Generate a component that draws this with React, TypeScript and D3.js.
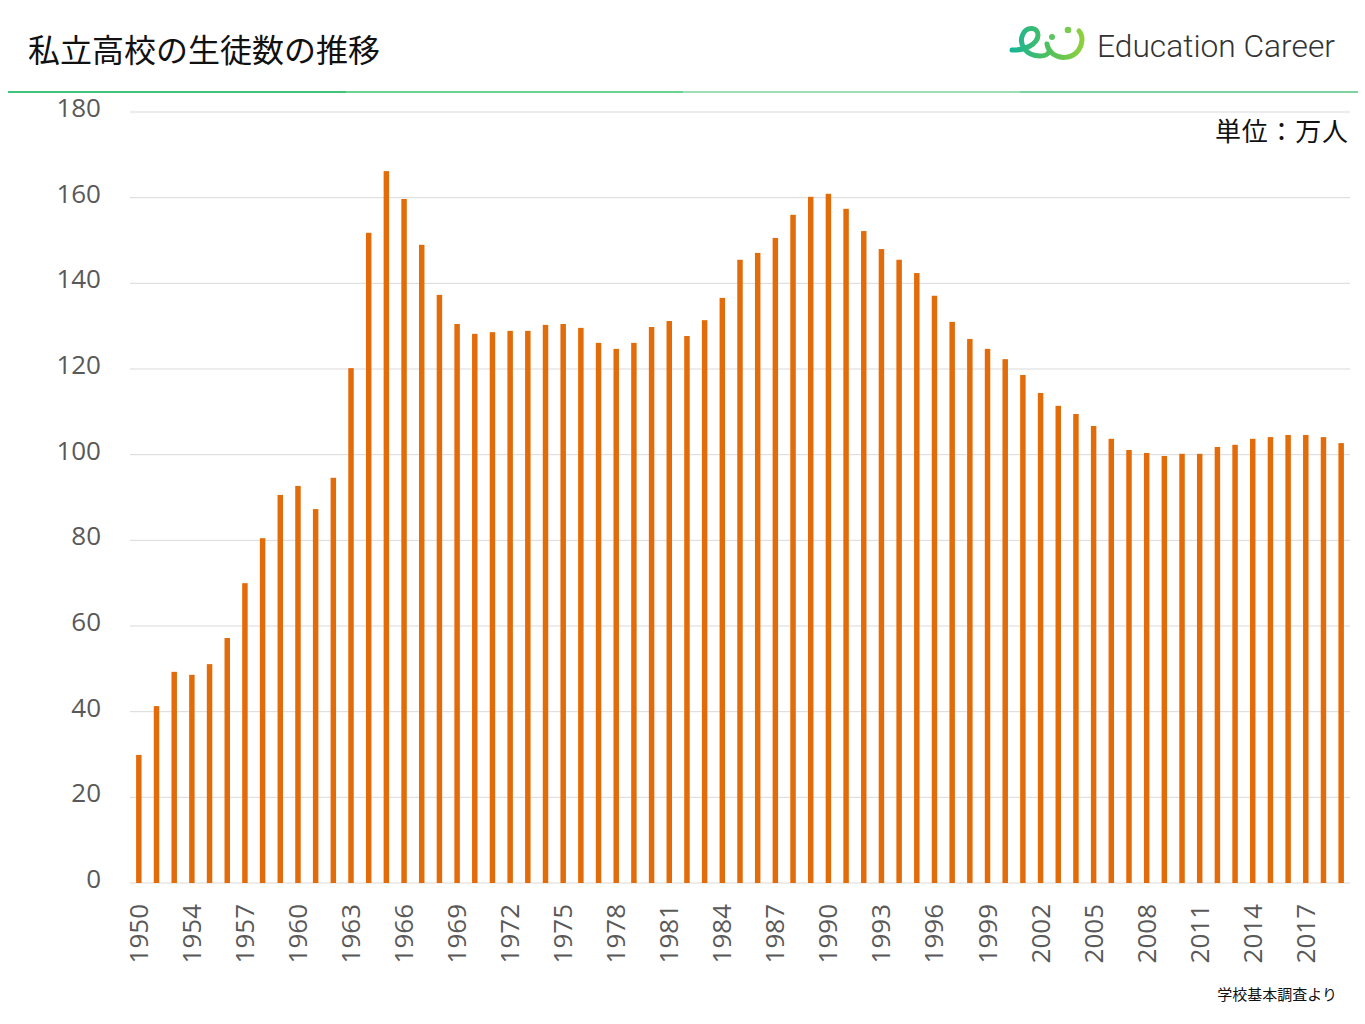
import React, { useEffect, useRef } from 'react';
import * as d3 from 'd3';

// 私立高校の生徒数（万人）— 学校基本調査
const years: number[] = [
  1950, 1952, 1953, 1954, 1955, 1956, 1957, 1958, 1959, 1960,
  1961, 1962, 1963, 1964, 1965, 1966, 1967, 1968, 1969, 1970,
  1971, 1972, 1973, 1974, 1975, 1976, 1977, 1978, 1979, 1980,
  1981, 1982, 1983, 1984, 1985, 1986, 1987, 1988, 1989, 1990,
  1991, 1992, 1993, 1994, 1995, 1996, 1997, 1998, 1999, 2000,
  2001, 2002, 2003, 2004, 2005, 2006, 2007, 2008, 2009, 2010,
  2011, 2012, 2013, 2014, 2015, 2016, 2017, 2018, 2019,
];

const students: number[] = [
  29.9, 41.3, 49.3, 48.6, 51.1, 57.2, 70.0, 80.5, 90.6, 92.7,
  87.3, 94.6, 120.2, 151.8, 166.2, 159.7, 149.0, 137.3, 130.5, 128.2,
  128.6, 128.9, 128.9, 130.3, 130.5, 129.6, 126.1, 124.7, 126.1, 129.8,
  131.2, 127.7, 131.4, 136.6, 145.5, 147.1, 150.6, 156.0, 160.2, 160.9,
  157.4, 152.2, 148.0, 145.5, 142.4, 137.1, 131.0, 127.0, 124.7, 122.3,
  118.6, 114.4, 111.4, 109.5, 106.7, 103.7, 101.1, 100.4, 99.7, 100.2,
  100.2, 101.8, 102.3, 103.7, 104.1, 104.6, 104.6, 104.1, 102.7,
];

const yTicks: number[] = [0, 20, 40, 60, 80, 100, 120, 140, 160, 180];

const title = '私立高校の生徒数の推移';
const unitLabel = '単位：万人';
const sourceLabel = '学校基本調査より';
const brandName = 'Education Career';

const W = 1365;
const H = 1024;

const App: React.FC = () => {
  const svgRef = useRef<SVGSVGElement | null>(null);

  useEffect(() => {
    if (!svgRef.current) return;
    const svg = d3.select(svgRef.current);
    svg.selectAll('*').remove();

    const numFont = '"Open Sans", "Noto Sans", sans-serif';
    const jpFont = '"Noto Sans CJK JP", sans-serif';
    const labelColor = '#595959';

    svg.append('rect').attr('width', W).attr('height', H).attr('fill', '#ffffff');

    // header
    svg.append('text')
      .attr('x', 28)
      .attr('y', 62)
      .attr('font-family', jpFont)
      .attr('font-size', 32)
      .attr('fill', '#111')
      .text(title);

    // green rule under the header, in four tints
    const rule = [
      { x0: 8, x1: 346, c: '#00b050' },
      { x0: 346, x1: 683, c: '#3cc46f' },
      { x0: 683, x1: 1020, c: '#7fd4a0' },
      { x0: 1020, x1: 1358, c: '#52c583' },
    ];
    svg.append('g').selectAll('line')
      .data(rule)
      .join('line')
      .attr('x1', d => d.x0)
      .attr('x2', d => d.x1)
      .attr('y1', 92)
      .attr('y2', 92)
      .attr('stroke', d => d.c)
      .attr('stroke-width', 1.5);

    // logo
    const defs = svg.append('defs');
    const lg = defs.append('linearGradient')
      .attr('id', 'logo-grad')
      .attr('gradientUnits', 'userSpaceOnUse')
      .attr('x1', 1010).attr('y1', 40).attr('x2', 1085).attr('y2', 40);
    lg.append('stop').attr('offset', '0%').attr('stop-color', '#16b39a');
    lg.append('stop').attr('offset', '50%').attr('stop-color', '#4cc05e');
    lg.append('stop').attr('offset', '100%').attr('stop-color', '#92d13a');

    const logo = svg.append('g');
    logo.append('path')
      .attr('d', 'M1012,50 C1024,51 1038,44 1038,35 C1038,27 1027,26 1023,34 C1018,44 1026,56 1040,56 C1046,56 1048,54 1049,52')
      .attr('fill', 'none')
      .attr('stroke', 'url(#logo-grad)')
      .attr('stroke-width', 5)
      .attr('stroke-linecap', 'round');
    logo.append('path')
      .attr('d', 'M1047,44 C1050,62 1080,63 1082,40 C1082,36 1081,33 1079,31')
      .attr('fill', 'none')
      .attr('stroke', 'url(#logo-grad)')
      .attr('stroke-width', 5)
      .attr('stroke-linecap', 'round');
    logo.append('circle').attr('cx', 1052).attr('cy', 37).attr('r', 3).attr('fill', '#5cc465');
    logo.append('circle').attr('cx', 1068).attr('cy', 30).attr('r', 3.3).attr('fill', '#78cb4e');

    svg.append('text')
      .attr('x', 1097)
      .attr('y', 57)
      .attr('font-family', '"Roboto", "Noto Sans", sans-serif')
      .attr('font-size', 31)
      .attr('font-weight', 300)
      .attr('fill', '#333333')
      .attr('textLength', 238)
      .attr('lengthAdjust', 'spacingAndGlyphs')
      .text(brandName);

    // chart
    const x = d3.scaleBand<number>()
      .domain(years)
      .range([130, 1350])
      .paddingInner(0.69)
      .paddingOuter(0.345);

    const y = d3.scaleLinear().domain([0, 180]).range([883, 112]);

    svg.append('g').selectAll('line')
      .data(yTicks)
      .join('line')
      .attr('x1', 130)
      .attr('x2', 1350)
      .attr('y1', d => y(d))
      .attr('y2', d => y(d))
      .attr('stroke', '#d9d9d9')
      .attr('stroke-width', 1);

    svg.append('g').selectAll('text')
      .data(yTicks)
      .join('text')
      .attr('x', 101)
      .attr('y', d => y(d) + 5)
      .attr('text-anchor', 'end')
      .attr('font-family', numFont)
      .attr('font-size', 26)
      .attr('fill', labelColor)
      .text(d => String(d));

    svg.append('g').selectAll('rect')
      .data(students)
      .join('rect')
      .attr('x', (_, i) => x(years[i]) ?? 0)
      .attr('width', x.bandwidth())
      .attr('y', d => y(d))
      .attr('height', d => y(0) - y(d))
      .attr('fill', '#e36c0a');

    const xLabels = years.filter((_, i) => i % 3 === 0);
    svg.append('g').selectAll('text')
      .data(xLabels)
      .join('text')
      .attr('transform', d => `translate(${(x(d) ?? 0) + x.bandwidth() / 2 + 9},904) rotate(-90)`)
      .attr('text-anchor', 'end')
      .attr('font-family', numFont)
      .attr('font-size', 26)
      .attr('fill', labelColor)
      .text(d => String(d));

    svg.append('text')
      .attr('x', 1348)
      .attr('y', 141)
      .attr('text-anchor', 'end')
      .attr('font-family', jpFont)
      .attr('font-size', 26)
      .attr('fill', '#111')
      .attr('textLength', 133)
      .text(unitLabel);

    svg.append('text')
      .attr('x', 1337)
      .attr('y', 1000)
      .attr('text-anchor', 'end')
      .attr('font-family', jpFont)
      .attr('font-size', 15)
      .attr('fill', '#111')
      .text(sourceLabel);
  }, []);

  return (
    <div style={{ position: 'absolute', left: 0, top: 0, width: W, height: H }}>
      <svg ref={svgRef} width={W} height={H} style={{ display: 'block' }} />
    </div>
  );
};

export default App;
